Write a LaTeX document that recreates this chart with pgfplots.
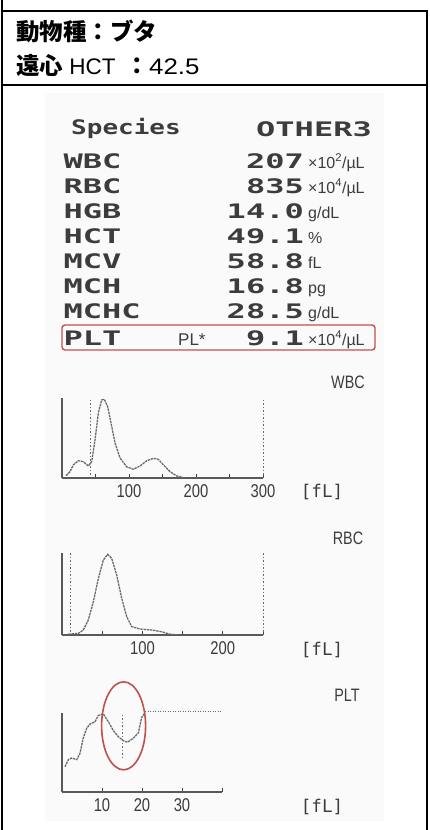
\documentclass[border=0pt]{standalone}
\usepackage{fontspec}
\usepackage{pgfplots}
\pgfplotsset{compat=1.18}
\setmainfont{Liberation Sans}
\newfontfamily\cjk{Noto Sans CJK JP}
\newfontfamily\wide{Liberation Sans}[FakeStretch=1.15]
\newfontfamily\prn{DejaVu Sans Mono}[FakeStretch=1.6]
\newfontfamily\prnb{DejaVu Sans Mono}[FakeStretch=1.3]
\newfontfamily\prnm{DejaVu Sans Mono}
\newfontfamily\nar{Liberation Sans}[FakeStretch=0.8]
\definecolor{Scan}{HTML}{3C3C3C}
\definecolor{Trace}{HTML}{6A6A6A}
\definecolor{Mark}{HTML}{C0504D}
\newcommand\pr{\prn\bfseries\fontsize{20bp}{24bp}\selectfont}
\newcommand\un[1]{{\rmfamily\fontsize{16bp}{16bp}\selectfont #1}}
\newcommand\hl[1]{{\nar\fontsize{18bp}{18bp}\selectfont #1}}

\pgfplotsset{
  hist/.style={
    scale only axis, anchor=south west,
    axis x line=bottom, axis y line=left,
    axis line style={-, Scan!85, line width=1.2bp},
    ytick=\empty, tick align=inside, major tick length=4bp,
    tick style={Scan, line width=0.9bp},
    ymin=0, ymax=100, clip=false,
    xticklabel style={font=\nar\fontsize{18.5bp}{18bp}\selectfont,
      text=Scan, inner sep=0pt, yshift=-6bp},
  },
  curve/.style={Trace, line width=1.3bp, dash pattern=on 2.4bp off 0.8bp},
  gate/.style={Trace, line width=0.8bp, dash pattern=on 1.5bp off 2bp},
}

\begin{document}
\begin{tikzpicture}[x=1bp,y=1bp]
\useasboundingbox (0,0) rectangle (429,-830);
\fill[black!2] (45,-93) rectangle (384,-821);

% header
\node[anchor=base west, inner sep=0] at (16,-40.5)
  {\cjk\bfseries\fontsize{23.5bp}{26bp}\selectfont 動物種：ブタ};
\node[anchor=base west, inner sep=0] at (16,-74)
  {{\cjk\bfseries\fontsize{23.5bp}{26bp}\selectfont 遠心}\fontsize{22.5bp}{24bp}\selectfont{} HCT\hspace{10bp}{\cjk\bfseries\fontsize{23.5bp}{26bp}\selectfont ：}{\wide 42.5}};

% printout
\begin{scope}[every node/.style={inner sep=0, text=Scan}]
\node[anchor=base west] at (71,-134) {\prnb\bfseries\fontsize{20bp}{24bp}\selectfont Species};
\node[anchor=base east] at (372,-136) {\pr OTHER3};

\node[anchor=base west] at (63.5,-168) {\pr WBC};
\node[anchor=base west] at (63.5,-193) {\pr RBC};
\node[anchor=base west] at (63.5,-218) {\pr HGB};
\node[anchor=base west] at (63.5,-243) {\pr HCT};
\node[anchor=base west] at (63.5,-268) {\pr MCV};
\node[anchor=base west] at (63.5,-293) {\pr MCH};
\node[anchor=base west] at (63.5,-318) {\pr MCHC};
\node[anchor=base west] at (63.5,-345) {\pr PLT};

\node[anchor=base east] at (304,-168) {\pr 207};
\node[anchor=base east] at (304,-193) {\pr 835};
\node[anchor=base east] at (304,-218) {\pr 14.0};
\node[anchor=base east] at (304,-243) {\pr 49.1};
\node[anchor=base east] at (304,-268) {\pr 58.8};
\node[anchor=base east] at (304,-293) {\pr 16.8};
\node[anchor=base east] at (304,-318) {\pr 28.5};
\node[anchor=base east] at (304,-345) {\pr 9.1};

\node[anchor=base west] at (308,-168) {\un{×10\textsuperscript{2}/µL}};
\node[anchor=base west] at (308,-193) {\un{×10\textsuperscript{4}/µL}};
\node[anchor=base west] at (308,-218) {\un{g/dL}};
\node[anchor=base west] at (308,-243) {\un{\%}};
\node[anchor=base west] at (308,-268) {\un{fL}};
\node[anchor=base west] at (308,-293) {\un{pg}};
\node[anchor=base west] at (308,-318) {\un{g/dL}};
\node[anchor=base west] at (308,-345) {\un{×10\textsuperscript{4}/µL}};
\node[anchor=base west] at (178,-345) {\un{\fontsize{17bp}{17bp}\selectfont PL*}};

\node at (348,-382) {\hl{WBC}};
\node at (348,-538) {\hl{RBC}};
\node at (347,-695) {\hl{PLT}};
\node at (322,-492) {\prnm\fontsize{17.5bp}{18bp}\selectfont [fL]};
\node at (322,-650) {\prnm\fontsize{17.5bp}{18bp}\selectfont [fL]};
\node at (322,-807) {\prnm\fontsize{17.5bp}{18bp}\selectfont [fL]};
\end{scope}
\draw[Mark, line width=1.4bp, rounded corners=3bp] (62,-325) rectangle (375,-350);

% WBC histogram
\begin{axis}[hist, at={(62bp,-478bp)}, width=201bp, height=80bp,
  xmin=0, xmax=300, xtick={50,100,...,300}, xticklabels={,100,,200,,300}]
  \addplot[curve] coordinates {
    (6,3)(11.9,7.9)(16.9,16.3)(24.3,21.6)(31.8,20.4)(39.3,15)(44.3,20.4)
    (49.3,47.5)(54.2,81.3)(59.2,97.5)(63.1,98.4)(68.2,89)(73.1,69)
    (79.1,44)(86.6,25)(96.6,14)(106.5,11)(116.5,15)(126.5,21.6)
    (136.4,24.6)(143.9,23.4)(151.4,16.3)(161.3,7.9)(171.3,2.5)(183.7,0)};
  \addplot[gate] coordinates {(42,0)(42,100)};
  \addplot[gate] coordinates {(300,0)(300,100)};
\end{axis}

% RBC histogram
\begin{axis}[hist, at={(62bp,-635bp)}, width=201bp, height=82bp,
  xmin=0, xmax=250, xtick={50,100,...,250}, xticklabels={,100,,200,}]
  \addplot[curve] coordinates {
    (7.8,1)(20.3,2)(26.5,6)(32.7,18.3)(39,40.6)(45.2,69)(51.4,91.5)
    (56.8,98.4)(61.8,93.5)(68,73.2)(74.3,44.7)(80.5,22.4)(86.7,10.2)
    (97,7.3)(111.6,6.1)(124,4)(134.4,1)(144.8,0)};
  \addplot[gate] coordinates {(10,0)(10,100)};
  \addplot[gate] coordinates {(250,0)(250,100)};
\end{axis}

% PLT histogram
\begin{axis}[hist, at={(62bp,-792bp)}, width=160bp, height=79bp,
  xmin=0, xmax=40, xtick={10,20,30,40}, xticklabels={10,20,30,}]
  \addplot[curve] coordinates {
    (0.75,32)(1.6,41)(2.4,43)(3.7,41)(4.5,49)(5.3,68)(6.2,81)(7,86)
    (8.25,89)(9.1,97)(10.3,99)(11.6,89)(12.8,78)(14.1,70)(15.3,65)
    (16.4,63)(17.8,68)(19.1,75)(19.9,94)(20.7,100)};
  \addplot[gate] coordinates {(15.2,43)(15.2,97)};
  \addplot[gate, dash pattern=on 1bp off 1.5bp] coordinates {(20.8,101.5)(40,101.5)};
  \draw[Mark, line width=1.6bp] (axis cs:15.4,83.8) ellipse [x radius=22bp, y radius=44bp];
\end{axis}

% table frame
\draw[line width=2.5bp] (2,0) -- (2,-830);
\draw[line width=2.5bp] (0.8,-11) -- (427,-11) -- (427,-830);
\draw[line width=2.5bp] (2,-85) -- (427,-85);
\end{tikzpicture}
\end{document}
